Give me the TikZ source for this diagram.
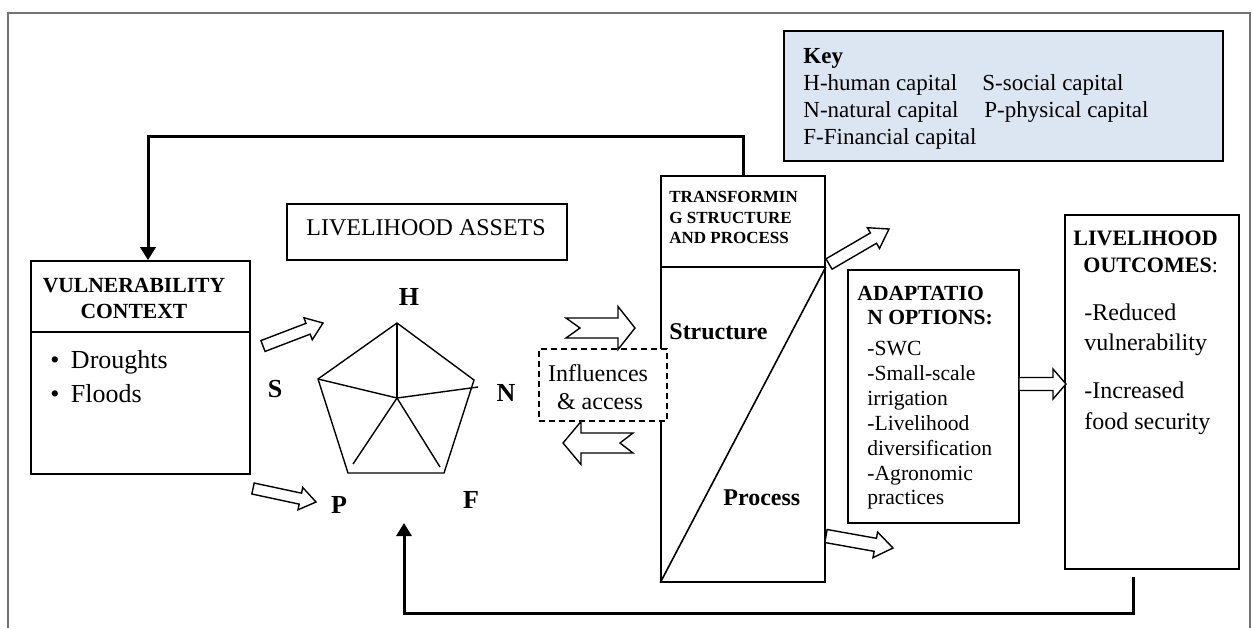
\documentclass[tikz,border=0pt]{standalone}
\usepackage{fontspec}
\setmainfont{Liberation Serif}
\usetikzlibrary{calc,fit,arrows.meta}
\definecolor{keyblue}{RGB}{220,230,242}
\newcommand\myfs[2]{\fontsize{#1}{#2}\selectfont}
% tail, tip, half shaft, half head, head length, notch depth
\newcommand\blockarrow[6]{%
  \coordinate (ba-t) at (#1);
  \coordinate (ba-h) at (#2);
  \coordinate (ba-b) at ($(ba-h)!#5!(ba-t)$);
  \draw[blk] ($(ba-t)!#3!90:(ba-h)$) -- ($(ba-b)!#3!90:(ba-h)$) -- ($(ba-b)!#4!90:(ba-h)$)
    -- (ba-h) -- ($(ba-b)!#4!-90:(ba-h)$) -- ($(ba-b)!#3!-90:(ba-h)$)
    -- ($(ba-t)!#3!-90:(ba-h)$) -- ($(ba-t)!#6!(ba-h)$) -- cycle;
}
\begin{document}
\begin{tikzpicture}[x=0.5pt,y=-0.5pt,
  box/.style={draw, line width=0.8pt, inner sep=0pt},
  boxb/.style={draw, line width=1pt, inner sep=0pt},
  dashbox/.style={draw, fill=white, line width=1pt, dash pattern=on 3pt off 2pt, inner sep=0pt},
  txt/.style={inner sep=0pt, anchor=base west},
  ctxt/.style={inner sep=0pt, anchor=base},
  frame/.style={draw=black!55, line width=0.6pt},
  fb/.style={line width=1.5pt, -{Triangle[length=6.5pt,width=7.5pt]}},
  blk/.style={draw, fill=white, line width=0.7pt, line join=miter},
  pent/.style={line width=0.7pt, line join=miter},
  lab/.style={inner sep=0pt, anchor=base, font=\bfseries\myfs{13}{15}}
]
\useasboundingbox (0,0) rectangle (1252,628);
% outer frame
\draw[frame] (8,628) -- (8,13) -- (1250,13) -- (1250,628);

% key
\node[box, fill=keyblue, fit={(784,31) (1223,161)}] (key) {};
\node[txt, font=\bfseries\myfs{11.5}{14}] (keyt) at (803,63) {Key};
\node[txt, font=\myfs{11.5}{14}] (k1) at (803,90) {H-human capital};
\node[txt, font=\myfs{11.5}{14}] (k2) at (982,90) {S-social capital};
\node[txt, font=\myfs{11.5}{14}] (k3) at (803,117) {N-natural capital};
\node[txt, font=\myfs{11.5}{14}] (k4) at (984,117) {P-physical capital};
\node[txt, font=\myfs{11.5}{14}] (k5) at (803,144) {F-Financial capital};

% vulnerability context
\node[box, fit={(31,261) (250,474)}] (vuln) {};
\draw[line width=0.8pt] (vuln.west |- 0,332) -- (vuln.east |- 0,332);
\node[ctxt, font=\bfseries\myfs{10.8}{13}] (v1) at (134,292) {VULNERABILITY};
\node[ctxt, font=\bfseries\myfs{10.8}{13}] (v2) at (134,318) {CONTEXT};
\node[txt, font=\myfs{13}{16}] (v3) at (50,368) {\makebox[10.3pt][l]{\textbullet}Droughts};
\node[txt, font=\myfs{13}{16}] (v4) at (50,402) {\makebox[10.3pt][l]{\textbullet}Floods};

% livelihood assets
\node[box, fit={(287,204) (567,260)}] (assets) {};
\node[txt, font=\myfs{12}{14}] (at) at (306,235) {LIVELIHOOD ASSETS};

% pentagon
\coordinate (pT) at (397,323);
\coordinate (pL) at (318,379);
\coordinate (pR) at (474,380);
\coordinate (pBL) at (348,473);
\coordinate (pBR) at (444,473);
\coordinate (pC) at (397,398);
\draw[pent] (pT) -- (pR) -- (pBR) -- (pBL) -- (pL) -- cycle;
\draw[pent] (pC) -- (pT);
\draw[pent] (pC) -- (pL);
\draw[pent] (pC) -- (478,387);
\draw[pent] (pC) -- (353,464);
\draw[pent] (pC) -- (440,467);
\node[lab] (lH) at (409,305) {H};
\node[lab] (lS) at (275,397) {S};
\node[lab] (lN) at (506,401) {N};
\node[lab] (lP) at (339,513) {P};
\node[lab] (lF) at (471,508) {F};

% transforming structure and process
\node[box, fit={(661,176) (825,582)}] (trans) {};
\draw[line width=0.8pt] (trans.west |- 0,267) -- (trans.east |- 0,267);
\draw[line width=0.8pt] (trans.south west) -- (trans.east |- 0,267);
\node[txt, font=\bfseries\myfs{8.5}{10}] (t1) at (669,202) {TRANSFORMIN};
\node[txt, font=\bfseries\myfs{8.5}{10}] (t2) at (669,223) {G STRUCTURE};
\node[txt, font=\bfseries\myfs{8.5}{10}] (t3) at (669,243) {AND PROCESS};
\node[txt, font=\bfseries\myfs{12}{14}] (ts) at (669,339) {Structure};
\node[txt, font=\bfseries\myfs{12}{14}] (tp) at (723,505) {Process};

% influences & access
\node[dashbox, fit={(539,349) (667,421)}] (infl) {};
\node[ctxt, font=\myfs{12}{14}] (i1) at (598,381) {Influences};
\node[ctxt, font=\myfs{12}{14}] (i2) at (600,409) {\& access};

% adaptation options
\node[boxb, fit={(848,270) (1019,523)}] (adapt) {};
\node[txt, font=\bfseries\myfs{10.8}{13}] (a1) at (857,300) {ADAPTATIO};
\node[txt, font=\bfseries\myfs{10.8}{13}] (a2) at (867,324) {N OPTIONS:};
\node[txt, font=\myfs{10.8}{12.5}, align=left] (a3) at (867,355) {-SWC};
\node[txt, font=\myfs{10.8}{12.5}] (a4) at (867,380) {-Small-scale};
\node[txt, font=\myfs{10.8}{12.5}] (a5) at (867,405) {irrigation};
\node[txt, font=\myfs{10.8}{12.5}] (a6) at (867,430) {-Livelihood};
\node[txt, font=\myfs{10.8}{12.5}] (a7) at (867,455) {diversification};
\node[txt, font=\myfs{10.8}{12.5}] (a8) at (867,480) {-Agronomic};
\node[txt, font=\myfs{10.8}{12.5}] (a9) at (867,504) {practices};

% livelihood outcomes
\node[boxb, fit={(1065,215) (1239,569)}] (outc) {};
\node[txt, font=\bfseries\myfs{11}{13}] (o1) at (1073,245) {LIVELIHOOD};
\node[txt, font=\myfs{11}{13}] (o2) at (1083,272) {\textbf{OUTCOMES}:};
\node[txt, font=\myfs{12}{14}] (o3) at (1084,320) {-Reduced};
\node[txt, font=\myfs{12}{14}] (o4) at (1084,350) {vulnerability};
\node[txt, font=\myfs{12}{14}] (o5) at (1084,398) {-Increased};
\node[txt, font=\myfs{12}{14}] (o6) at (1084,429) {food security};

% block arrows
\blockarrow{263,346}{323,323}{2.9pt}{5.9pt}{8pt}{0pt}
\blockarrow{253,488.5}{316,502}{2.8pt}{5.7pt}{8pt}{0pt}
\blockarrow{566,328}{635,328}{5pt}{10.75pt}{8.5pt}{7pt}
\blockarrow{633,443}{563,443}{5pt}{10.75pt}{9pt}{6.5pt}
\blockarrow{829,264}{889,229}{3pt}{6pt}{9pt}{0pt}
\blockarrow{826,536}{893,548}{3.3pt}{6.5pt}{9pt}{0pt}
\blockarrow{1019,384}{1066,384}{3.25pt}{7.5pt}{6.5pt}{0pt}

% feedback connectors
\draw[fb] (trans.north) -- (trans.north |- 0,136) -| ([xshift=3.75pt]vuln.north);
\coordinate (fbstart) at (1133,577);
\coordinate (fbend) at (404,523);
\draw[fb] (fbstart) -- (fbstart |- 0,613) -- (fbend |- 0,613) -- (fbend);
\end{tikzpicture}
\end{document}
